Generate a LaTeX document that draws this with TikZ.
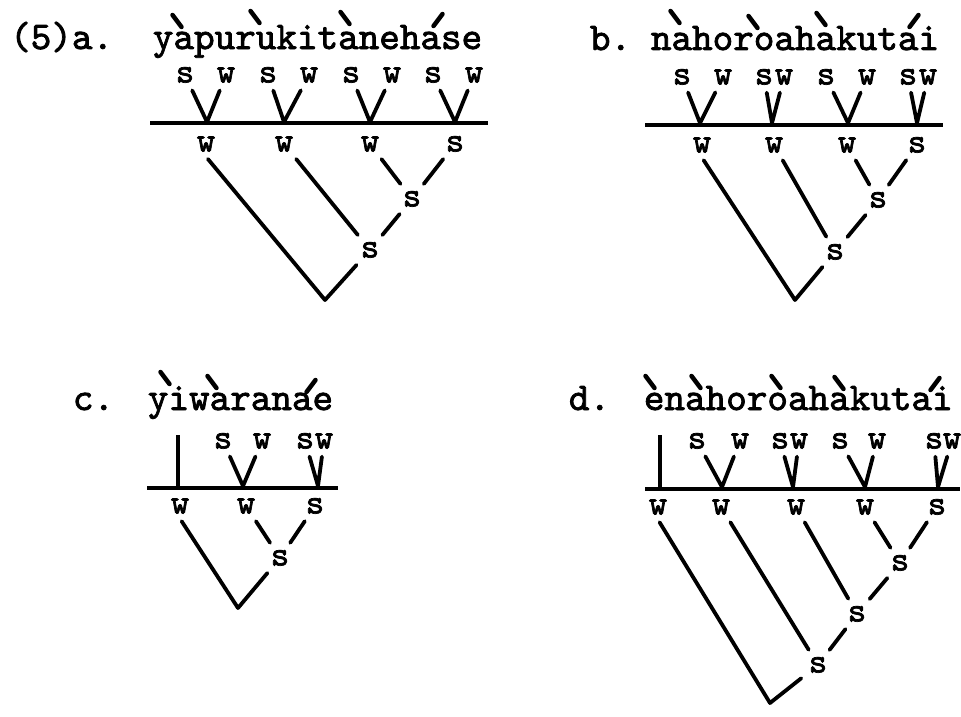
\documentclass[tikz,border=0pt]{standalone}
\usepackage{fontspec}
\newfontfamily\tw{lmmono10-regular.otf}[FakeBold=2]
\newcommand\twf{\tw\fontsize{39.2pt}{40pt}\selectfont}
\newcommand\twl{\tw\fontsize{35pt}{36pt}\selectfont}
\newcommand\gacc[2]{\draw[acc] ({#1-4.5},{#2-6}) -- ({#1+4.5},{#2+6});}
\newcommand\aacc[2]{\draw[acc] ({#1-4.5},{#2+6}) -- ({#1+4.5},{#2-6});}
\tikzset{
  lbl/.style={font=\twl, inner sep=5pt, text height=15pt, text depth=0pt, anchor=center},
  wrd/.style={font=\twf, inner sep=0pt, anchor=base west},
  ln/.style={line width=3.8pt, line cap=round, line join=round, shorten <=3pt, shorten >=3pt},
  bar/.style={line width=4pt},
  acc/.style={line width=4.5pt, line cap=round},
}
\begin{document}
\begin{tikzpicture}[x=1pt,y=-1pt]
\useasboundingbox[fill=white] (0,0) rectangle (961,717);
% ---------- panel a ----------
\node[wrd] (alab) at (10,49) {(5)a.};
\node[wrd] (aword) at (152.7,49) {yapurukitanehase};
\gacc{177}{21}\gacc{255}{17}\gacc{345}{18}\aacc{438}{20}
\node[lbl] (as1) at (185,75) {s};
\node[lbl] (aw1) at (226,75) {w};
\node[lbl] (as2) at (268,75) {s};
\node[lbl] (aw2) at (309,75) {w};
\node[lbl] (as3) at (351,75) {s};
\node[lbl] (aw3) at (392,75) {w};
\node[lbl] (as4) at (433,75) {s};
\node[lbl] (aw4) at (474,75) {w};
\coordinate (aA1) at (207,122);
\coordinate (aA2) at (284,122);
\coordinate (aA3) at (370,122);
\coordinate (aA4) at (455,122);
\coordinate (aL) at (150,123);
\coordinate (aRt) at (488,123);
\draw[bar] (aL) -- (aRt);
\draw[ln] (as1) -- (aA1) -- (aw1);
\draw[ln] (as2) -- (aA2) -- (aw2);
\draw[ln] (as3) -- (aA3) -- (aw3);
\draw[ln] (as4) -- (aA4) -- (aw4);
\node[lbl] (aW1) at (206,144) {w};
\node[lbl] (aW2) at (284,144) {w};
\node[lbl] (aW3) at (370,144) {w};
\node[lbl] (aS4) at (455,144) {s};
\node[lbl] (aS5) at (412,199) {s};
\node[lbl] (aS6) at (370,250) {s};
\coordinate (aR) at (325,300);
\draw[ln] (aW3) -- (aS5);
\draw[ln] (aS4) -- (aS5);
\draw[ln] (aS5) -- (aS6);
\draw[ln] (aW2) -- (aS6);
\draw[ln] (aW1.south) -- (aR) -- (aS6);
% ---------- panel b ----------
\node[wrd] (blab) at (589.7,50) {b.};
\node[wrd] (bword) at (650.7,50) {nahoroahakutai};
\gacc{675}{17}\gacc{753}{22}\gacc{821}{19}\aacc{914}{21}
\node[lbl] (bs1) at (682,77) {s};
\node[lbl] (bw1) at (723,77) {w};
\node[lbl] (bs2) at (764,77) {s};
\node[lbl] (bw2) at (784,77) {w};
\node[lbl] (bs3) at (826,77) {s};
\node[lbl] (bw3) at (867,77) {w};
\node[lbl] (bs4) at (908,77) {s};
\node[lbl] (bw4) at (928,77) {w};
\coordinate (bA1) at (700,123);
\coordinate (bA2) at (772,123);
\coordinate (bA3) at (848,123);
\coordinate (bA4) at (917,123);
\coordinate (bL) at (645,124.5);
\coordinate (bRt) at (943,124.5);
\draw[bar] (bL) -- (bRt);
\draw[ln] (bs1) -- (bA1) -- (bw1);
\draw[ln] (bs2) -- (bA2) -- (bw2);
\draw[ln] (bs3) -- (bA3) -- (bw3);
\draw[ln] (bs4) -- (bA4) -- (bw4);
\node[lbl] (bW1) at (702,145) {w};
\node[lbl] (bW2) at (774,145) {w};
\node[lbl] (bW3) at (847,145) {w};
\node[lbl] (bS4) at (917,145) {s};
\node[lbl] (bS5) at (878,200) {s};
\node[lbl] (bS6) at (835,252) {s};
\coordinate (bR) at (795,300);
\draw[ln] (bW3) -- (bS5);
\draw[ln] (bS4) -- (bS5);
\draw[ln] (bS5) -- (bS6);
\draw[ln] (bW2) -- (bS6);
\draw[ln] (bW1.south) -- (bR) -- (bS6);
% ---------- panel c ----------
\node[wrd] (clab) at (72.7,410) {c.};
\node[wrd] (cword) at (147.7,410) {yiwaranae};
\gacc{165}{378}\gacc{212}{382}\aacc{311}{386}
\coordinate (cT) at (178,435);
\coordinate (cB) at (178,487);
\draw[line width=3.8pt] (cT) -- (cB);
\node[lbl] (cs1) at (223,441) {s};
\node[lbl] (cw1) at (262,441) {w};
\node[lbl] (cs2) at (305,441) {s};
\node[lbl] (cw2) at (324,441) {w};
\coordinate (cA1) at (243,486);
\coordinate (cA2) at (318,486);
\coordinate (cL) at (147,487.5);
\coordinate (cRt) at (338,487.5);
\draw[bar] (cL) -- (cRt);
\draw[ln] (cs1) -- (cA1) -- (cw1);
\draw[ln] (cs2) -- (cA2) -- (cw2);
\node[lbl] (cW1) at (180,506) {w};
\node[lbl] (cW2) at (246,506) {w};
\node[lbl] (cS3) at (315,506) {s};
\node[lbl] (cS4) at (280,558) {s};
\coordinate (cR) at (238,608);
\draw[ln] (cW2) -- (cS4);
\draw[ln] (cS3) -- (cS4);
\draw[ln] (cW1.south) -- (cR) -- (cS4);
% ---------- panel d ----------
\node[wrd] (dlab) at (568.7,410) {d.};
\node[wrd] (dword) at (643.7,410) {enahoroahakutai};
\gacc{650}{382}\gacc{696}{382}\gacc{776}{382}\gacc{839}{383}\aacc{935}{384}
\coordinate (dT) at (660,435);
\coordinate (dB) at (660,488);
\draw[line width=3.8pt] (dT) -- (dB);
\node[lbl] (ds1) at (697,441) {s};
\node[lbl] (dw1) at (740,441) {w};
\node[lbl] (ds2) at (780,441) {s};
\node[lbl] (dw2) at (799,441) {w};
\node[lbl] (ds3) at (840,441) {s};
\node[lbl] (dw3) at (877,441) {w};
\node[lbl] (ds4) at (934,441) {s};
\node[lbl] (dw4) at (952,441) {w};
\coordinate (dA1) at (722,487);
\coordinate (dA2) at (793,487);
\coordinate (dA3) at (865,487);
\coordinate (dA4) at (938,487);
\coordinate (dL) at (645,488.5);
\coordinate (dRt) at (960,488.5);
\draw[bar] (dL) -- (dRt);
\draw[ln] (ds1) -- (dA1) -- (dw1);
\draw[ln] (ds2) -- (dA2) -- (dw2);
\draw[ln] (ds3) -- (dA3) -- (dw3);
\draw[ln] (ds4) -- (dA4) -- (dw4);
\node[lbl] (dW1) at (658,507) {w};
\node[lbl] (dW2) at (721,507) {w};
\node[lbl] (dW3) at (796,507) {w};
\node[lbl] (dW4) at (865,507) {w};
\node[lbl] (dS5) at (937,507) {s};
\node[lbl] (dS6) at (900,563) {s};
\node[lbl] (dS7) at (857,614) {s};
\node[lbl] (dS8) at (818,665) {s};
\coordinate (dR) at (770,703);
\draw[ln] (dW4) -- (dS6);
\draw[ln] (dS5) -- (dS6);
\draw[ln] (dS6) -- (dS7);
\draw[ln] (dW3) -- (dS7);
\draw[ln] (dS7) -- (dS8);
\draw[ln] (dW2) -- (dS8);
\draw[ln] (dW1.south) -- (dR) -- (dS8);
\end{tikzpicture}
\end{document}
